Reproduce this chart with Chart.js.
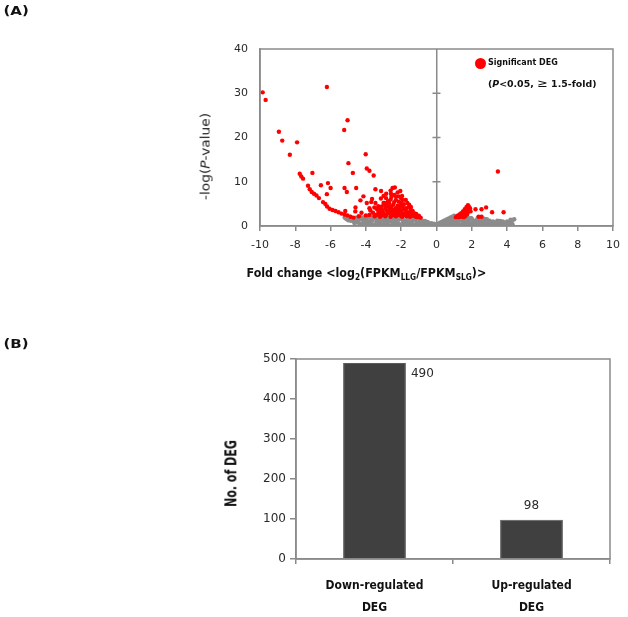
<!DOCTYPE html>
<html>
<head>
<meta charset="utf-8">
<script src="https://cdn.jsdelivr.net/npm/chart.js@4/dist/chart.umd.min.js"></script>
<style>
  html, body { margin: 0; padding: 0; background: #fff; }
  body { width: 628px; height: 617px; position: relative; overflow: hidden; font-family: 'DejaVu Sans', sans-serif; color: #111; }
  #wrapA { position: absolute; left: 0; top: 0; width: 628px; height: 300px; }
  #wrapB { position: absolute; left: 0; top: 310px; width: 628px; height: 307px; }
  .txt { position: absolute; white-space: nowrap; transform-origin: 50% 50%; line-height: 1; }
  .panel { font-weight: bold; font-size: 12px; font-family: 'DejaVu Sans', sans-serif; }
  .ytitle { font-size: 13px; font-family: 'DejaVu Sans Condensed', 'DejaVu Sans', sans-serif; color: #222; }
  .xtitle { font-size: 12px; font-weight: bold; font-family: 'DejaVu Sans', sans-serif; color: #111; }
  .xtitle sub { font-size: 8px; vertical-align: -3px; }
  .leg { font-size: 8px; font-weight: bold; font-family: 'DejaVu Sans', sans-serif; color: #111; }
  .ge { font-size: 11px; font-weight: normal; }
  .btitle { font-size: 15px; font-weight: bold; font-family: 'DejaVu Sans Condensed', 'DejaVu Sans', sans-serif; color: #111; }
  #legDot { position: absolute; width: 11px; height: 11px; border-radius: 50%; background: #ff0000; left: 474.5px; top: 57.5px; }
</style>
</head>
<body>
<div id="wrapA"><canvas id="chartA" width="628" height="300"></canvas></div>
<div id="wrapB"><canvas id="chartB" width="628" height="307"></canvas></div>

<div class="txt panel" id="lblA">(A)</div>
<div class="txt panel" id="lblB">(B)</div>
<div class="txt ytitle" id="ytA">-log(<i>P</i>-value)</div>
<div class="txt xtitle" id="xtA">Fold change &lt;log<sub>2</sub>(FPKM<sub>LLG</sub>/FPKM<sub>SLG</sub>)&gt;</div>
<div id="legDot"></div>
<div class="txt leg" id="leg1">Significant DEG</div>
<div class="txt leg" id="leg2">(<i>P</i>&lt;0.05, <span class="ge">≥</span> 1.5-fold)</div>
<div class="txt btitle" id="ytB">No. of DEG</div>

<script>
// ---------------- DATA ----------------
// Panel A: volcano plot points [log2 fold change, -log(P-value)]
const significantDEG = [
  [-9.85,30.2],[-9.68,28.5],[-6.21,31.4],[-8.93,21.3],[-8.74,19.3],[-7.90,18.9],[-8.31,16.1],
  [-5.04,23.9],[-5.23,21.7],[-4.01,16.2],[-4.99,14.2],[-3.95,13.0],[-3.80,12.5],[-3.56,11.4],[-4.74,12.0],
  [-7.75,11.8],[-7.66,11.2],[-7.56,10.7],[-7.03,12.0],[-7.28,9.1],[-7.18,8.3],[-7.07,7.7],[-6.94,7.3],
  [-6.55,9.2],[-6.15,9.7],[-6.00,8.6],[-6.21,7.2],[-6.66,6.3],[-6.43,5.4],[-6.80,6.9],[-6.30,5.0],
  [-6.20,4.4],[-6.06,3.9],[-5.89,3.6],[-5.72,3.4],[-5.55,3.1],[-5.38,2.8],[-5.21,2.6],[-5.04,2.4],[-4.87,2.1],[-4.70,1.9],
  [-5.17,3.4],[-5.21,8.6],[-5.08,7.7],[-4.55,8.6],[-4.31,5.8],[-4.14,6.7],[-4.59,4.2],[-4.25,3.0],
  [-3.46,8.3],[-3.14,7.9],[-3.46,5.2],[-3.95,5.2],[-3.80,4.0],[-3.70,5.4],
  [-2.49,8.6],[-2.36,8.7],[-2.58,7.3],[-2.30,6.7],[-2.86,6.3],[-2.96,5.2],[-2.77,4.4],[-2.02,5.2],[-1.93,4.4],
  [-2.11,3.6],[-1.74,3.6],[-1.55,2.9],[-1.36,2.5],[-1.17,2.1],[-0.99,2.0],
  [-3.52,4.2],[-3.24,2.9],[-3.00,5.2],[-2.68,5.2],[-2.58,4.4],[-2.30,5.9],[-2.15,6.7],[-2.02,4.5],[-1.74,4.0],
  [-1.55,4.8],[-1.45,3.6],[-1.27,2.9],[-3.05,3.3],[-2.86,2.5],[-2.49,2.9],[-2.11,2.5],[-1.83,2.5],[-3.43,2.5],
  [-3.80,2.5],[-2.68,3.6],[-2.30,4.0],[-1.92,5.9],[-2.39,7.0],[-1.74,5.9],
  [-3.20,3.8],[-2.90,3.9],[-2.60,3.2],[-2.40,3.5],[-2.20,3.1],[-2.00,3.2],[-1.90,2.7],[-1.60,2.6],[-1.50,3.3],
  [-2.50,2.4],[-2.70,2.8],[-3.10,2.4],[-3.30,3.4],[-3.60,3.0],[-2.20,4.6],[-2.40,5.4],[-2.90,4.7],[-3.30,4.5],
  [-1.30,2.3],[-1.10,2.0],[-4.00,2.4],[-4.40,2.2],[-4.60,3.3],[-2.00,6.2],[-1.60,4.2],[-2.60,6.0],[-3.00,6.8],
  [-2.20,7.6],[-2.60,8.0],
  [-3.40,3.9],[-3.10,4.4],[-2.80,3.4],[-2.50,3.8],[-2.30,2.7],[-2.10,4.2],[-1.90,3.7],[-1.70,3.1],[-1.40,2.8],
  [-1.20,2.4],[-2.75,5.6],[-2.45,4.8],[-2.15,5.5],[-1.85,4.9],[-1.65,5.2],[-2.90,2.2],[-2.60,2.1],[-2.30,2.2],
  [-2.00,2.3],[-1.70,2.2],[-3.20,2.1],[-3.50,2.2],[-1.00,2.3],[-0.90,1.9],[-1.45,4.3],[-2.55,6.6],[-1.95,6.8],
  [-3.15,6.2],[-3.65,6.1],[-2.85,7.3],[-2.05,7.9],[-1.80,2.8],[-2.35,3.2],[-2.65,4.1],[-3.00,2.9],[-3.35,2.6],
  [-1.35,3.4],[-1.15,2.7],[-2.20,3.9],[-2.85,5.1],[-3.10,3.6],[-2.45,2.6],[-1.95,2.1],[-1.50,2.1],[-3.75,3.5],
  [3.48,12.3],[3.80,3.1],[3.15,3.1],[2.81,4.2],[2.55,3.8],[2.21,3.8],[1.93,3.3],[2.39,2.1],[2.55,2.1],
  [1.10,2.0],[1.20,2.3],[1.30,2.6],[1.40,2.9],[1.50,3.3],[1.60,3.8],[1.70,4.3],[1.78,4.7],[1.82,4.5],
  [1.85,3.8],[1.80,3.3],[1.75,2.7],[1.65,2.3],[1.55,2.0],[1.45,2.2],[1.35,2.1],[1.50,2.7],[1.60,3.0],
  [1.70,3.5],[1.25,2.0],[1.90,4.0]
];
const otherGenes = [
  [-5.2,1.9],[-5.1,1.6],[-5.0,1.3],[-4.9,2.0],[-4.8,1.5],[-4.7,1.1],[-4.6,1.8],[-4.5,0.8],[-4.4,1.4],[-4.3,2.0],
  [-4.2,0.6],[-4.1,1.2],[-4.0,1.7],[-3.9,0.4],[-3.8,0.9],[-3.7,1.5],[-3.6,2.0],[-3.5,0.3],[-3.4,1.1],[-3.3,0.7],
  [-3.2,1.6],[-3.1,0.2],[-3.0,1.3],[-2.9,1.9],[-2.8,0.5],[-2.7,1.0],[-2.6,1.5],[-2.5,0.2],[-2.4,0.8],[-2.3,1.8],
  [-2.2,1.2],[-2.1,0.4],[-2.0,1.6],[-1.9,0.9],[-1.8,0.2],[-1.7,1.3],[-1.6,1.9],[-1.5,0.6],[-1.4,1.1],[-1.3,1.7],
  [-1.2,0.3],[-1.1,0.9],[-1.0,1.4],[-0.9,0.5],[-0.8,1.2],[-0.7,0.8],[-0.6,0.3],[-0.5,0.9],[-0.4,0.5],[-0.3,0.6],
  [-0.2,0.2],[-0.1,0.4],[-4.95,1.7],[-4.55,1.3],[-4.15,1.9],[-3.95,1.1],[-3.75,0.6],[-3.55,1.8],[-3.35,1.4],
  [-3.15,1.0],[-2.95,0.4],[-2.75,1.8],[-2.55,1.1],[-2.35,0.5],[-2.15,1.5],[-1.95,1.9],[-1.75,0.7],[-1.55,1.4],
  [-1.35,0.4],[-1.15,1.2],[-0.95,1.8],[-0.75,0.4],[-0.55,0.6],[-0.35,0.3],[-0.15,0.5],[-3.85,0.2],[-3.45,0.1],
  [-2.65,0.1],[-1.85,0.1],[-1.05,0.1],[-0.45,0.1],[-4.35,0.5],[-2.05,0.1],[-4.65,0.7],[-1.45,1.9],[-1.25,1.5],
  [-5.05,1.9],[-4.85,1.2],[-4.75,1.8],[-4.45,1.0],[-4.25,1.6],[-4.05,0.9],[-3.65,1.2],[-3.25,0.4],[-3.05,1.7],
  [-2.85,1.2],[-2.45,1.5],[-2.25,0.9],[-1.65,0.4],[-1.45,0.9],[-0.85,0.9],[-0.65,1.1],[-0.25,0.4],[-3.9,1.9],
  [-3.4,1.9],[-2.9,0.9],[-2.4,1.2],[-1.9,1.4],[-1.4,1.5],[-0.9,1.4],[-3.7,0.2],[-3.0,0.1],[-2.2,0.2],[-1.5,0.2],
  [-0.7,0.1],[-4.1,0.4],[-4.5,1.9],
  [0.1,0.5],[0.2,0.7],[0.3,0.9],[0.4,1.1],[0.5,1.3],[0.6,1.5],[0.7,1.7],[0.8,1.9],[0.9,2.1],[1.0,2.3],
  [0.2,0.2],[0.4,0.4],[0.6,0.8],[0.8,0.5],[1.0,1.2],[1.1,1.8],[1.2,0.6],[1.3,1.4],[1.4,0.3],[1.5,1.0],
  [1.6,1.7],[1.7,0.7],[1.8,1.3],[1.9,0.4],[2.0,1.6],[2.1,0.9],[2.2,0.3],[2.3,1.4],[2.4,0.7],[2.5,1.1],
  [2.6,0.5],[2.7,1.6],[2.8,0.9],[2.9,0.3],[3.0,1.2],[3.1,0.6],[3.2,1.0],[3.3,0.4],[3.4,0.8],[3.5,0.5],
  [3.6,1.1],[3.7,0.4],[3.8,0.8],[4.0,1.0],[4.2,1.4],[4.4,1.5],[4.1,0.6],[3.9,0.3],[0.7,1.0],[0.9,0.6],
  [1.1,0.9],[0.3,0.5],[0.5,0.3],[0.75,1.3],[0.95,1.6],[1.05,0.4],[1.25,1.1],[1.35,2.0],[1.45,1.6],[1.55,0.5],
  [1.65,1.2],[1.75,1.9],[2.05,0.6],[2.15,1.2],[2.35,1.9],[2.45,0.2],[2.65,1.0],[2.85,1.5],
  [0.15,0.3],[0.35,0.7],[0.55,1.0],[0.65,0.4],[0.85,1.2],[1.15,0.3],[1.25,1.7],[1.5,1.4],[1.7,1.1],[1.85,0.8],
  [1.95,1.8],[2.25,0.8],[2.55,1.4],[2.75,0.4],[2.95,0.9],[3.05,0.2],[3.25,0.7],[3.45,1.2],[3.55,0.2],[3.75,1.0],
  [3.95,0.7],[4.25,1.0],[4.3,0.4],[0.45,0.8]
];
// Panel B: bar chart
const degCategories = [['Down-regulated', 'DEG'], ['Up-regulated', 'DEG']];
const degCounts = [490, 98];

// ---------------- STYLE ----------------
const AXIS = '#8a8a8a';
const TICKTXT = '#2a2a2a';

const framePlugin = {
  id: 'frame',
  afterDraw(chart) {
    const {ctx, chartArea: a} = chart;
    ctx.save();
    ctx.strokeStyle = AXIS;
    ctx.lineWidth = 1.5;
    ctx.strokeRect(a.left, a.top, a.right - a.left, a.bottom - a.top);
    ctx.restore();
  }
};

const centerTicksPlugin = {
  id: 'centerTicks',
  afterDraw(chart) {
    const {ctx} = chart;
    const xs = chart.scales.x, ys = chart.scales.y;
    const x0 = xs.getPixelForValue(0);
    ctx.save();
    ctx.strokeStyle = AXIS;
    ctx.lineWidth = 1.5;
    ys.ticks.forEach(t => {
      if (t.value <= ys.min || t.value >= ys.max) return;
      const y = ys.getPixelForValue(t.value);
      ctx.beginPath();
      ctx.moveTo(x0 - 4, y);
      ctx.lineTo(x0 + 4, y);
      ctx.stroke();
    });
    ctx.restore();
  }
};

new Chart(document.getElementById('chartA'), {
  type: 'scatter',
  data: {
    datasets: [
      { label: 'Significant DEG', data: significantDEG.map(p => ({x: p[0], y: p[1]})),
        backgroundColor: '#ff0000', borderWidth: 0, pointRadius: 2.2, order: 0 },
      { label: 'Other genes', data: otherGenes.map(p => ({x: p[0], y: p[1]})),
        backgroundColor: '#8c8c8c', borderWidth: 0, pointRadius: 2.3, order: 1 }
    ]
  },
  options: {
    responsive: false, animation: false,
    layout: { padding: { left: 200, right: 13, top: 49, bottom: 34 } },
    plugins: { legend: { display: false }, tooltip: { enabled: false } },
    scales: {
      x: {
        type: 'linear', min: -10, max: 10,
        ticks: { stepSize: 2, padding: 8, color: TICKTXT, font: { family: 'DejaVu Sans', size: 11 }, maxRotation: 0 },
        grid: {
          drawOnChartArea: true, drawTicks: true, tickLength: 5, tickColor: AXIS, tickWidth: 1.5,
          color: c => (c.tick && c.tick.value === 0) ? AXIS : 'rgba(0,0,0,0)',
          lineWidth: 1.5
        },
        border: { display: true, color: AXIS, width: 1.5 },
        afterFit: s => { s.height = 40; }
      },
      y: {
        type: 'linear', min: 0, max: 40,
        ticks: { stepSize: 10, padding: 12, color: TICKTXT, font: { family: 'DejaVu Sans', size: 11 } },
        grid: { drawOnChartArea: false, drawTicks: false },
        border: { display: true, color: AXIS, width: 1.5 },
        afterFit: s => { s.width = 60; }
      }
    }
  },
  plugins: [framePlugin, centerTicksPlugin]
});

const barLabelPlugin = {
  id: 'barLabels',
  afterDatasetsDraw(chart) {
    const {ctx, chartArea} = chart;
    const meta = chart.getDatasetMeta(0);
    const vals = chart.data.datasets[0].data;
    ctx.save();
    ctx.font = '12px "DejaVu Sans"';
    ctx.fillStyle = TICKTXT;
    ctx.textBaseline = 'middle';
    meta.data.forEach((bar, i) => {
      const room = bar.y - chartArea.top;
      if (room < 24) {
        ctx.textAlign = 'left';
        ctx.fillText(String(vals[i]), bar.x + bar.width / 2 + 5, bar.y + 11);
      } else {
        ctx.textAlign = 'center';
        ctx.fillText(String(vals[i]), bar.x, bar.y - 14);
      }
    });
    ctx.restore();
  }
};

new Chart(document.getElementById('chartB'), {
  type: 'bar',
  data: {
    labels: degCategories,
    datasets: [{ label: 'No. of DEG', data: degCounts, backgroundColor: '#404040',
                 borderColor: '#5a5a5a', borderWidth: 1, barPercentage: 0.4, categoryPercentage: 1.0 }]
  },
  options: {
    responsive: false, animation: false,
    layout: { padding: { left: 226, right: 18, top: 49, bottom: 0 } },
    plugins: { legend: { display: false }, tooltip: { enabled: false } },
    scales: {
      x: {
        ticks: { padding: 11, color: '#111', maxRotation: 0,
                 font: { family: '"DejaVu Sans Condensed", "DejaVu Sans"', size: 12, weight: 'bold', lineHeight: 1.85 } },
        grid: { offset: true, drawOnChartArea: false, drawTicks: true, tickLength: 5, color: AXIS, lineWidth: 1.5 },
        border: { display: true, color: AXIS, width: 1.5 },
        afterFit: s => { s.height = 58; }
      },
      y: {
        min: 0, max: 500,
        ticks: { stepSize: 100, padding: 4, color: TICKTXT, font: { family: 'DejaVu Sans', size: 12 } },
        grid: { drawOnChartArea: false, drawTicks: true, tickLength: 6, color: AXIS, lineWidth: 1.5 },
        border: { display: true, color: AXIS, width: 1.5 },
        afterFit: s => { s.width = 70; }
      }
    }
  },
  plugins: [framePlugin, barLabelPlugin]
});

// ---------------- TEXT PLACEMENT ----------------
function place(id, cx, cy, len, rot) {
  const el = document.getElementById(id);
  const w = el.offsetWidth, h = el.offsetHeight;
  const s = len ? len / w : 1;
  el.style.left = (cx - w / 2) + 'px';
  el.style.top = (cy - h / 2) + 'px';
  el.style.transform = 'rotate(' + (rot || 0) + 'deg) scaleX(' + s + ')';
}
place('lblA', 15.5, 10.5, 25, 0);
place('lblB', 15.5, 343.5, 25, 0);
place('ytA', 205, 156.5, 87, -90);
place('xtA', 366.7, 274, 240, 0);
place('leg1', 488 + 35, 63, 70, 0);
place('leg2', 488 + 54, 83, 108, 0);
place('ytB', 232, 473.5, 67, -90);
</script>
</body>
</html>
